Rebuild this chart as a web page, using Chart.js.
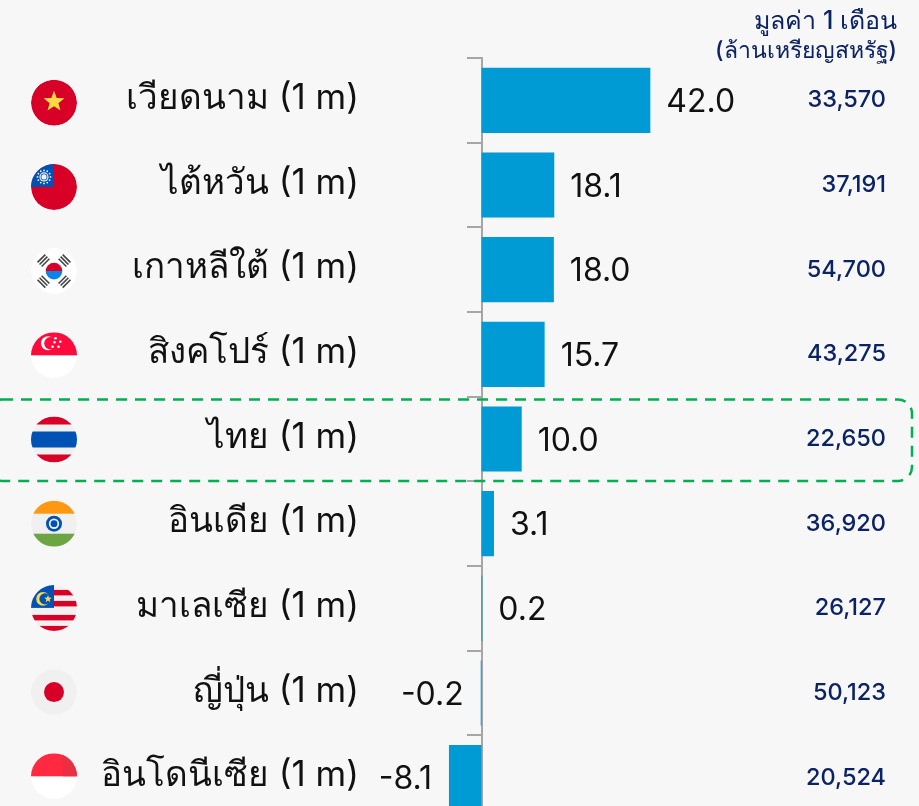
<!DOCTYPE html>
<html>
<head>
<meta charset="utf-8">
<script src="https://cdn.jsdelivr.net/npm/chart.js@4"></script>
<style>
  html, body { margin: 0; padding: 0; background: #f7f7f7; overflow: hidden; width: 919px; height: 806px; }
  canvas { display: block; }
</style>
</head>
<body>
<canvas id="barChart" width="919" height="820"></canvas>
<script>
const countries = ["เวียดนาม (1 m)", "ไต้หวัน (1 m)", "เกาหลีใต้ (1 m)", "สิงคโปร์ (1 m)", "ไทย (1 m)", "อินเดีย (1 m)", "มาเลเซีย (1 m)", "ญี่ปุ่น (1 m)", "อินโดนีเซีย (1 m)"];
const changes = [42.0, 18.1, 18.0, 15.7, 10.0, 3.1, 0.2, -0.2, -8.1];
const monthlyValues = ["33,570", "37,191", "54,700", "43,275", "22,650", "36,920", "26,127", "50,123", "20,524"];
const flagCodes = ["vn", "tw", "kr", "sg", "th", "in", "my", "jp", "id"];
const headerLines = ["มูลค่า 1 เดือน", "(ล้านเหรียญสหรัฐ)"];
const highlightCountry = 4;

const FONT = 'Inter, "Noto Sans", sans-serif';
const NAVY = "#0b2265";

function star(ctx, cx, cy, r, color) {
  ctx.fillStyle = color;
  ctx.beginPath();
  for (let i = 0; i < 10; i++) {
    let a = -Math.PI / 2 + (i * Math.PI) / 5;
    let rad = i % 2 ? r * 0.42 : r;
    ctx.lineTo(cx + rad * Math.cos(a), cy + rad * Math.sin(a));
  }
  ctx.closePath();
  ctx.fill();
}

function dot(ctx, cx, cy, r, color) {
  ctx.fillStyle = color;
  ctx.beginPath();
  ctx.arc(cx, cy, r, 0, Math.PI * 2);
  ctx.fill();
}

// flags are drawn in a 46x46 box with 0,0 at the centre
const flagPainters = {
  vn(ctx) {
    dot(ctx, 0, 0, 23, "#d80027");
    star(ctx, 0, -1, 11, "#ffda44");
  },
  tw(ctx) {
    dot(ctx, 0, 0, 23, "#d80027");
    ctx.fillStyle = "#0052b4";
    ctx.fillRect(-23, -23, 23, 23);
    for (let i = 0; i < 12; i++) {
      let a = (i * Math.PI) / 6;
      dot(ctx, -10 + 6.5 * Math.cos(a), -10 + 6.5 * Math.sin(a), 0.9, "#f0f0f0");
    }
    dot(ctx, -10, -10, 4.6, "#f0f0f0");
    dot(ctx, -10, -10, 3.4, "#0052b4");
    dot(ctx, -10, -10, 2.6, "#f0f0f0");
  },
  kr(ctx) {
    dot(ctx, 0, 0, 23, "#ffffff");
    ctx.fillStyle = "#d80027";
    ctx.beginPath();
    ctx.arc(0, 0, 8.3, Math.PI, 0);
    ctx.fill();
    ctx.fillStyle = "#0a84e8";
    ctx.beginPath();
    ctx.arc(0, 0, 8.3, 0, Math.PI);
    ctx.fill();
    ctx.strokeStyle = "#444";
    ctx.lineWidth = 1.6;
    [45, 135, 225, 315].forEach((deg) => {
      ctx.save();
      ctx.rotate((deg * Math.PI) / 180);
      for (let k = 0; k < 3; k++) {
        ctx.beginPath();
        ctx.moveTo(-5.5, 12 + k * 2.9);
        ctx.lineTo(5.5, 12 + k * 2.9);
        ctx.stroke();
      }
      ctx.restore();
    });
  },
  sg(ctx) {
    dot(ctx, 0, 0, 23, "#ffffff");
    ctx.fillStyle = "#ff0a3c";
    ctx.fillRect(-23, -23, 46, 23);
    dot(ctx, -6, -12, 7, "#ffffff");
    dot(ctx, -3.6, -12, 6.2, "#ff0a3c");
    [[1.5, -17], [6.3, -13.5], [4.5, -8.5], [-1.5, -8.5], [0.5, -13]].forEach((p) => {
      dot(ctx, p[0], p[1], 1.3, "#ffffff");
    });
  },
  th(ctx) {
    dot(ctx, 0, 0, 23, "#f0f0f0");
    ctx.fillStyle = "#d80027";
    ctx.fillRect(-23, -23, 46, 8);
    ctx.fillRect(-23, 15, 46, 8);
    ctx.fillStyle = "#0052b4";
    ctx.fillRect(-23, -8, 46, 16);
  },
  in(ctx) {
    dot(ctx, 0, 0, 23, "#f0f0f0");
    ctx.fillStyle = "#ff9811";
    ctx.fillRect(-23, -23, 46, 13);
    ctx.fillStyle = "#6da544";
    ctx.fillRect(-23, 10, 46, 13);
    dot(ctx, 0, 0, 8, "#0052b4");
    dot(ctx, 0, 0, 5.2, "#f0f0f0");
    dot(ctx, 0, 0, 3.4, "#0052b4");
  },
  my(ctx) {
    dot(ctx, 0, 0, 23, "#f0f0f0");
    ctx.fillStyle = "#d80027";
    ctx.fillRect(0, -18, 23, 5.5);
    ctx.fillRect(0, -7, 23, 5.5);
    ctx.fillRect(-23, 7, 46, 5.5);
    ctx.fillRect(-23, 18, 46, 5);
    ctx.fillStyle = "#0052b4";
    ctx.fillRect(-23, -23, 23, 23);
    dot(ctx, -11, -9, 6.8, "#ffda44");
    dot(ctx, -9, -9, 5.6, "#0052b4");
    star(ctx, -6, -9, 4, "#ffda44");
  },
  jp(ctx) {
    dot(ctx, 0, 0, 23, "#f0f0f0");
    dot(ctx, 0, 0, 10, "#d80027");
  },
  id(ctx) {
    dot(ctx, 0, 0, 23, "#ffffff");
    ctx.fillStyle = "#ff2a3f";
    ctx.fillRect(-23, -23, 46, 23);
    ctx.fillStyle = "#ea2f42";
    ctx.fillRect(9, -23, 14, 23);
  },
};

function drawFlag(ctx, code, cx, cy) {
  ctx.save();
  ctx.translate(cx, cy);
  ctx.beginPath();
  ctx.arc(0, 0, 23, 0, Math.PI * 2);
  ctx.clip();
  flagPainters[code](ctx);
  ctx.restore();
}

const decorations = {
  id: "decorations",
  afterDatasetsDraw(chart) {
    const ctx = chart.ctx;
    const xScale = chart.scales.x;
    const yScale = chart.scales.y;

    changes.forEach((v, i) => {
      let yMid = yScale.getPixelForValue(i);
      let xEnd = xScale.getPixelForValue(v);

      // value beside the bar
      ctx.save();
      ctx.fillStyle = "#111";
      ctx.font = "32px " + FONT;
      ctx.textBaseline = "middle";
      ctx.textAlign = v < 0 ? "right" : "left";
      ctx.fillText(v.toFixed(1), v < 0 ? xEnd - 17 : xEnd + 16, yMid + 2);

      // 1 month value on the right
      ctx.fillStyle = NAVY;
      ctx.font = "500 23.5px " + FONT;
      ctx.textAlign = "right";
      ctx.fillText(monthlyValues[i], 886, yMid);
      ctx.restore();

      drawFlag(ctx, flagCodes[i], 54, 102.7 + 84.2 * i);
    });

    // header of the right column
    ctx.save();
    ctx.fillStyle = NAVY;
    ctx.textAlign = "right";
    ctx.textBaseline = "middle";
    ctx.font = "500 25px " + FONT;
    ctx.fillText(headerLines[0], 897, 21);
    ctx.font = "500 23px " + FONT;
    ctx.fillText(headerLines[1], 897, 51);
    ctx.restore();

    // dashed box around Thailand
    let yMid = yScale.getPixelForValue(highlightCountry);
    ctx.save();
    ctx.strokeStyle = "#00b050";
    ctx.lineWidth = 2.5;
    ctx.setLineDash([11, 8]);
    ctx.beginPath();
    ctx.roundRect(-12, yMid - 39.5, 924, 81.5, 14);
    ctx.stroke();
    ctx.restore();
  },
};

let ctx = document.getElementById("barChart").getContext("2d");
let myBarChart = new Chart(ctx, {
  type: "bar",
  data: {
    labels: countries,
    datasets: [
      {
        data: changes,
        backgroundColor: "#009ad5",
        barPercentage: 0.77,
        categoryPercentage: 1,
        yAxisID: "y",
      },
    ],
  },
  options: {
    indexAxis: "y",
    responsive: false,
    animation: false,
    layout: { padding: { top: 58, left: 0, right: 0, bottom: 0 } },
    plugins: { legend: { display: false }, tooltip: { enabled: false } },
    scales: {
      x: {
        display: false,
        min: -27.74,
        max: 108.83,
      },
      y: {
        position: { x: 0 },
        offset: true,
        border: { color: "#a6a6a6", width: 2 },
        grid: { color: "#a6a6a6", lineWidth: 2, drawOnChartArea: false, drawTicks: true, tickLength: 14, offset: true },
        ticks: { display: false },
      },
      names: {
        type: "category",
        labels: countries,
        position: "left",
        offset: true,
        afterFit(scale) {
          // labels sit inside their bands, no room needed above or below
          scale.width = 370;
          scale.paddingTop = 0;
          scale.paddingBottom = 0;
        },
        border: { display: false },
        grid: { display: false, drawTicks: false },
        ticks: {
          color: "#111",
          padding: 11,
          labelOffset: -2,
          autoSkip: false,
          font: { family: FONT, size: 35 },
        },
      },
    },
  },
  plugins: [decorations],
});
</script>
</body>
</html>
